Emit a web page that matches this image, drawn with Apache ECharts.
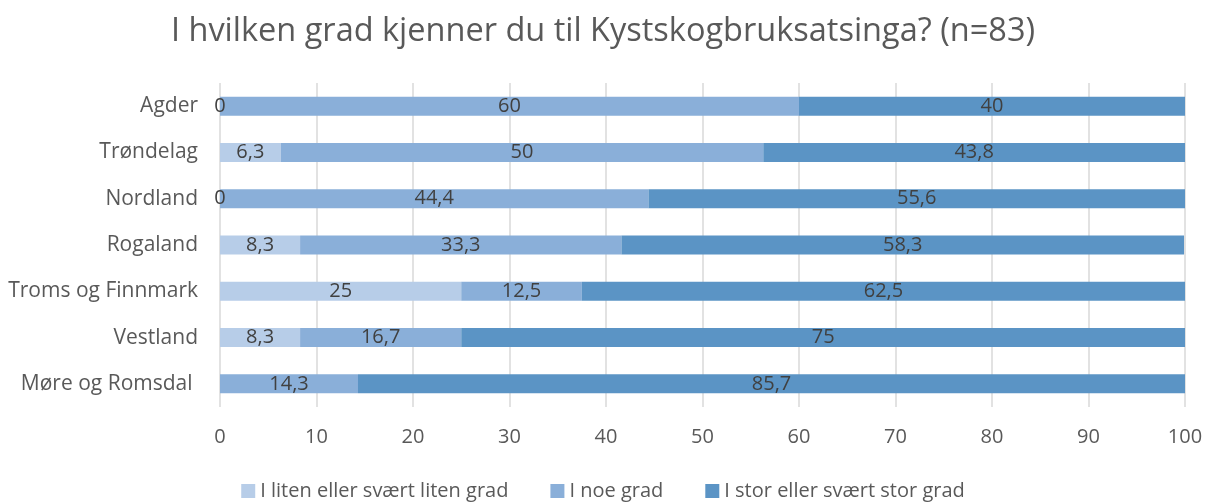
<!DOCTYPE html>
<html>
<head>
<meta charset="utf-8">
<script src="https://cdn.jsdelivr.net/npm/echarts@6/dist/echarts.min.js"></script>
<style>
  html, body { margin: 0; padding: 0; background: #fff; }
  #chart { width: 1206px; height: 502px; }
</style>
</head>
<body>
<div id="chart"></div>
<script>
const categories = ['Agder', 'Trøndelag', 'Nordland', 'Rogaland', 'Troms og Finnmark', 'Vestland', 'Møre og Romsdal '];
const seriesNames = ['I liten eller svært liten grad', 'I noe grad', 'I stor eller svært stor grad'];
const liten = [0, 6.3, 0, 8.3, 25, 8.3, null];
const noe = [60, 50, 44.4, 33.3, 12.5, 16.7, 14.3];
const stor = [40, 43.8, 55.6, 58.3, 62.5, 75, 85.7];
const colors = ['#b7cde8', '#8aafd9', '#5b94c5'];

const font = 'Open Sans';
const fmt = p => String(p.value).replace('.', ',');

function bar(name, data, color) {
  return {
    name, type: 'bar', stack: 'total', data, barWidth: 19,
    itemStyle: { color },
    label: {
      show: true, position: 'inside', formatter: fmt,
      color: '#404040', fontSize: 20, fontFamily: font
    }
  };
}

const chart = echarts.init(document.getElementById('chart'));
chart.setOption({
  animation: false,
  title: {
    text: 'I hvilken grad kjenner du til Kystskogbruksatsinga? (n=83)',
    left: 'center', top: 10,
    textStyle: { color: '#595959', fontSize: 32.5, fontWeight: 'normal', fontFamily: font }
  },
  legend: {
    top: 476, left: 'center', itemWidth: 14, itemHeight: 14, itemGap: 42,
    icon: 'rect',
    textStyle: { color: '#595959', fontSize: 20, fontFamily: font },
    data: seriesNames
  },
  grid: { left: 220, right: 21, top: 83, bottom: 95, containLabel: false },
  xAxis: {
    type: 'value', min: 0, max: 100, interval: 10,
    axisLine: { show: false }, axisTick: { show: false },
    splitLine: { lineStyle: { color: '#d9d9d9', width: 1.5 } },
    axisLabel: { color: '#595959', fontSize: 20, fontFamily: font, margin: 20 }
  },
  yAxis: {
    type: 'category', data: categories, inverse: true,
    axisLine: { show: false }, axisTick: { show: false },
    axisLabel: { color: '#595959', fontSize: 21, fontFamily: font, margin: 22 }
  },
  series: [
    bar(seriesNames[0], liten, colors[0]),
    bar(seriesNames[1], noe, colors[1]),
    bar(seriesNames[2], stor, colors[2])
  ]
});
</script>
</body>
</html>
